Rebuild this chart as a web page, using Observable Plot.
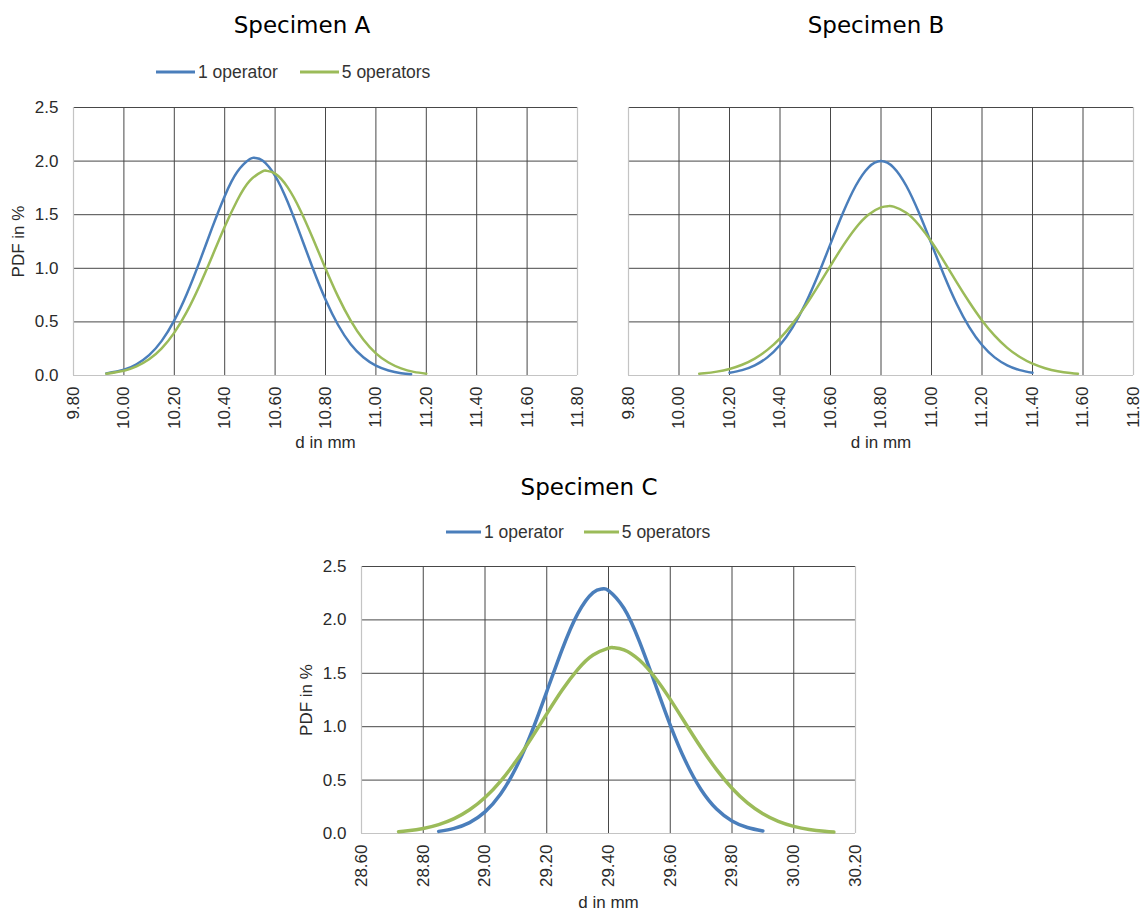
<!DOCTYPE html>
<html><head><meta charset="utf-8">
<script src="https://cdn.jsdelivr.net/npm/d3@7"></script>
<script src="https://cdn.jsdelivr.net/npm/@observablehq/plot@0.6"></script>
<style>
body{margin:0;background:#fff;}
#root{position:relative;width:1143px;height:912px;overflow:hidden;font-family:"Liberation Sans",Arial,sans-serif;}
.title{position:absolute;font-family:"DejaVu Sans",sans-serif;font-size:23px;color:#000;transform:translate(-50%,-50%);white-space:nowrap;}
.legend{position:absolute;display:flex;align-items:center;font-size:17px;color:#333;transform:translateY(-50%);white-space:nowrap;}
.sw{display:inline-block;margin-right:3px;}
.panel{position:absolute;}
</style></head>
<body><div id="root"></div>
<script>
// ---- data ----
const seriesNames = ["1 operator", "5 operators"];
const seriesColors = ["#4a7ebb", "#9bbb59"];

const xTicksAB = [9.8, 10.0, 10.2, 10.4, 10.6, 10.8, 11.0, 11.2, 11.4, 11.6, 11.8];
const xTicksC = [28.6, 28.8, 29.0, 29.2, 29.4, 29.6, 29.8, 30.0, 30.2];
const yTicks = [0, 0.5, 1.0, 1.5, 2.0, 2.5];

// Specimen A
const specA_d1 = [9.93,10.00,10.05,10.10,10.15,10.20,10.25,10.30,10.35,10.40,10.45,10.50,10.52,10.55,10.60,10.65,10.70,10.75,10.80,10.85,10.90,10.95,11.00,11.05,11.10,11.14];
const specA_pdf1 = [0.019,0.054,0.105,0.190,0.323,0.514,0.763,1.060,1.377,1.673,1.900,2.019,2.030,2.006,1.863,1.618,1.314,0.998,0.709,0.471,0.292,0.170,0.092,0.047,0.022,0.012];
const specA_d5 = [9.93,10.00,10.05,10.10,10.15,10.20,10.25,10.30,10.35,10.40,10.45,10.50,10.55,10.565,10.60,10.65,10.70,10.75,10.80,10.85,10.90,10.95,11.00,11.05,11.10,11.15,11.20];
const specA_pdf5 = [0.017,0.045,0.085,0.151,0.253,0.400,0.596,0.838,1.110,1.388,1.635,1.818,1.905,1.910,1.883,1.755,1.542,1.278,0.999,0.736,0.512,0.335,0.207,0.121,0.066,0.034,0.017];

// Specimen B
const specB_d1 = [10.20,10.25,10.30,10.35,10.40,10.45,10.50,10.55,10.60,10.65,10.70,10.75,10.80,10.85,10.90,10.95,11.00,11.05,11.10,11.15,11.20,11.25,11.30,11.35,11.40];
const specB_pdf1 = [0.025,0.050,0.095,0.169,0.284,0.449,0.667,0.933,1.228,1.520,1.770,1.940,2.000,1.940,1.770,1.520,1.228,0.933,0.667,0.449,0.284,0.169,0.095,0.050,0.025];
const specB_d5 = [10.08,10.10,10.15,10.20,10.25,10.30,10.35,10.40,10.45,10.50,10.55,10.60,10.65,10.70,10.75,10.80,10.83,10.85,10.90,10.95,11.00,11.05,11.10,11.15,11.20,11.25,11.30,11.35,11.40,11.45,11.50,11.55,11.58];
const specB_pdf5 = [0.016,0.020,0.036,0.061,0.100,0.158,0.239,0.347,0.484,0.647,0.831,1.024,1.211,1.376,1.499,1.568,1.580,1.575,1.518,1.404,1.247,1.063,0.869,0.683,0.514,0.372,0.258,0.172,0.110,0.068,0.040,0.023,0.016];

// Specimen C
const specC_d1 = [28.85,28.90,28.95,29.00,29.05,29.10,29.15,29.20,29.25,29.30,29.35,29.38,29.40,29.45,29.50,29.55,29.60,29.65,29.70,29.75,29.80,29.85,29.90];
const specC_pdf1 = [0.020,0.048,0.102,0.202,0.367,0.613,0.941,1.329,1.724,2.057,2.256,2.290,2.275,2.109,1.798,1.409,1.015,0.673,0.410,0.229,0.118,0.056,0.024];
const specC_d5 = [28.72,28.75,28.80,28.85,28.90,28.95,29.00,29.05,29.10,29.15,29.20,29.25,29.30,29.35,29.40,29.415,29.45,29.50,29.55,29.60,29.65,29.70,29.75,29.80,29.85,29.90,29.95,30.00,30.05,30.10,30.13];
const specC_pdf5 = [0.017,0.026,0.047,0.083,0.139,0.222,0.337,0.489,0.676,0.891,1.120,1.343,1.534,1.671,1.736,1.740,1.720,1.624,1.463,1.256,1.028,0.803,0.598,0.424,0.287,0.185,0.114,0.067,0.037,0.020,0.013];

// ---- build ----
const root = document.getElementById("root");
const toRows = (ds, ps, s) => ds.map((d, i) => ({d, pdf: ps[i], s}));

function addTitle(text, cx, cy) {
  const el = document.createElement("div");
  el.className = "title"; el.textContent = text;
  el.style.left = cx + "px"; el.style.top = cy + "px";
  root.appendChild(el);
}
function addLegend(left, cy, lineW, lineH, gap, fontSize) {
  const el = document.createElement("div");
  el.className = "legend";
  el.style.left = left + "px"; el.style.top = cy + "px"; el.style.fontSize = fontSize + "px";
  seriesNames.forEach((n, i) => {
    const sw = document.createElement("span");
    sw.className = "sw";
    sw.style.width = lineW + "px"; sw.style.height = lineH + "px";
    sw.style.background = seriesColors[i];
    const t = document.createElement("span");
    t.textContent = n;
    if (i === 0) t.style.marginRight = gap + "px";
    el.appendChild(sw); el.appendChild(t);
  });
  root.appendChild(el);
}

function addPanel(cfg) {
  const rows = toRows(cfg.d1, cfg.p1, seriesNames[0]).concat(toRows(cfg.d5, cfg.p5, seriesNames[1]));
  const xt = cfg.xTicks;
  const marks = [
    Plot.gridX(xt.slice(1, -1), {stroke: "#474747", strokeOpacity: 1, strokeWidth: 1}),
    Plot.gridY(yTicks.slice(1), {stroke: "#474747", strokeOpacity: 1, strokeWidth: 1}),
    Plot.ruleY([0], {stroke: "#c4c4c4", strokeWidth: 1.2}),
    Plot.ruleX([xt[0], xt[xt.length - 1]], {stroke: "#c4c4c4", strokeWidth: 1.2}),
    Plot.axisX(xt, {
      tickFormat: d3.format(".2f"), tickRotate: -90, tickSize: 0, tickPadding: 11,
      fontSize: 17, fill: "#2a2a2a",
      label: "d in mm", labelAnchor: "center", labelArrow: "none", labelOffset: cfg.xLabelOffset
    }),
    cfg.yLabels
      ? Plot.axisY(yTicks, {
          tickFormat: d3.format(".1f"), tickSize: 0, tickPadding: 15, fontSize: 17, fill: "#2a2a2a",
          label: "PDF in %", labelAnchor: "center", labelArrow: "none", labelOffset: cfg.yLabelOffset
        })
      : Plot.axisY(yTicks, {tickFormat: () => "", tickSize: 0, label: null}),
    Plot.line(rows, {x: "d", y: "pdf", z: "s", stroke: "s", strokeWidth: cfg.lw, curve: "natural"})
  ];
  const svg = Plot.plot({
    width: cfg.width, height: cfg.height,
    marginLeft: cfg.ml, marginRight: cfg.mr, marginTop: cfg.mt, marginBottom: cfg.mb,
    style: {fontFamily: "'Liberation Sans', Arial, sans-serif", fontSize: "16px", color: "#222", background: "transparent"},
    x: {domain: [xt[0], xt[xt.length - 1]]},
    y: {domain: [0, 2.5]},
    color: {domain: seriesNames, range: seriesColors},
    marks
  });
  const wrap = document.createElement("div");
  wrap.className = "panel";
  wrap.style.left = cfg.left + "px"; wrap.style.top = cfg.top + "px";
  wrap.appendChild(svg);
  root.appendChild(wrap);
}

// Specimen A
addTitle("Specimen A", 302, 25);
addLegend(156, 72, 39, 2.5, 22, 17.5);
addPanel({left: 0, top: 95, width: 590, height: 365, ml: 73, mr: 13, mt: 12, mb: 85,
  xTicks: xTicksAB, d1: specA_d1, p1: specA_pdf1, d5: specA_d5, p5: specA_pdf5,
  yLabels: true, xLabelOffset: 72, yLabelOffset: 62, lw: 2.5});

// Specimen B
addTitle("Specimen B", 876, 25);
addPanel({left: 580, top: 95, width: 563, height: 365, ml: 48, mr: 10, mt: 12, mb: 85,
  xTicks: xTicksAB, d1: specB_d1, p1: specB_pdf1, d5: specB_d5, p5: specB_pdf5,
  yLabels: false, xLabelOffset: 72, lw: 2.5});

// Specimen C
addTitle("Specimen C", 589, 487);
addLegend(446, 532, 35, 3.5, 20, 17.5);
addPanel({left: 290, top: 550, width: 590, height: 362, ml: 71, mr: 25, mt: 16, mb: 79,
  xTicks: xTicksC, d1: specC_d1, p1: specC_pdf1, d5: specC_d5, p5: specC_pdf5,
  yLabels: true, xLabelOffset: 74, yLabelOffset: 62, lw: 3.5});
</script>
</body></html>
